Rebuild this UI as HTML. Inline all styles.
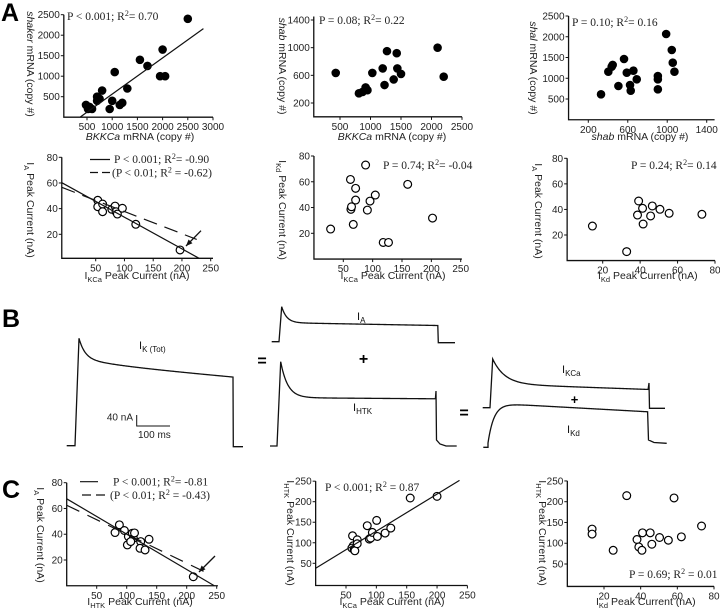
<!DOCTYPE html>
<html><head><meta charset="utf-8"><style>
html,body{margin:0;padding:0;background:#fff;}
svg{display:block;}
.tk{font-family:"Liberation Sans",sans-serif;font-size:10px;fill:#222;}
.tt{font-family:"Liberation Sans",sans-serif;font-size:10.5px;fill:#222;}
.st{font-family:"Liberation Serif",serif;font-size:11.5px;fill:#222;}
.lt{font-family:"Liberation Sans",sans-serif;font-size:25px;font-weight:bold;fill:#000;}
.tr{font-family:"Liberation Sans",sans-serif;font-size:11px;fill:#111;}
</style></head><body>
<svg id="fig" width="720" height="611" viewBox="0 0 720 611" xmlns="http://www.w3.org/2000/svg">
<text class="lt" x="1" y="21">A</text>
<text class="lt" x="2" y="327">B</text>
<text class="lt" x="2" y="498">C</text>

<!-- axis titles -->
<text class="tt" transform="translate(27,64) rotate(90)" text-anchor="middle"><tspan font-style="italic">shaker</tspan> mRNA (copy #)</text>
<text class="tt" x="140" y="140" text-anchor="middle"><tspan font-style="italic">BKKCa</tspan> mRNA (copy #)</text>
<text class="tt" transform="translate(279,66) rotate(90)" text-anchor="middle"><tspan font-style="italic">shab</tspan> mRNA (copy #)</text>
<text class="tt" x="392" y="140" text-anchor="middle"><tspan font-style="italic">BKKCa</tspan> mRNA (copy #)</text>
<text class="tt" transform="translate(530,68) rotate(90)" text-anchor="middle"><tspan font-style="italic">shal</tspan> mRNA (copy #)</text>
<text class="tt" x="640" y="140" text-anchor="middle"><tspan font-style="italic">shab</tspan> mRNA (copy #)</text>

<text class="tt" transform="translate(27,210) rotate(90)" text-anchor="middle">I<tspan dy="3" font-size="7.5">A</tspan><tspan dy="-3">  Peak Current (nA)</tspan></text>
<text class="tt" x="137" y="279" text-anchor="middle">I<tspan dy="3" font-size="7.5">KCa</tspan><tspan dy="-3"> Peak Current (nA)</tspan></text>
<text class="tt" transform="translate(279,210) rotate(90)" text-anchor="middle">I<tspan dy="3" font-size="7.5">Kd</tspan><tspan dy="-3"> Peak Current (nA)</tspan></text>
<text class="tt" x="393" y="279" text-anchor="middle">I<tspan dy="3" font-size="7.5">KCa</tspan><tspan dy="-3"> Peak Current (nA)</tspan></text>
<text class="tt" transform="translate(535,211) rotate(90)" text-anchor="middle">I<tspan dy="3" font-size="7.5">A</tspan><tspan dy="-3">  Peak Current (nA)</tspan></text>
<text class="tt" x="598" y="279">I<tspan dy="3" font-size="7.5">Kd</tspan><tspan dy="-3">   Peak Current (nA)</tspan></text>

<text class="tt" transform="translate(37,535) rotate(90)" text-anchor="middle">I<tspan dy="3" font-size="7.5">A</tspan><tspan dy="-3">  Peak Current (nA)</tspan></text>
<text class="tt" x="140" y="605" text-anchor="middle">I<tspan dy="3" font-size="7.5">HTK</tspan><tspan dy="-3"> Peak Current (nA)</tspan></text>
<text class="tt" transform="translate(287,533) rotate(90)" text-anchor="middle">I<tspan dy="3" font-size="7.5">HTK</tspan><tspan dy="-3"> Peak Current (nA)</tspan></text>
<text class="tt" x="392" y="605" text-anchor="middle">I<tspan dy="3" font-size="7.5">KCa</tspan><tspan dy="-3"> Peak Current (nA)</tspan></text>
<text class="tt" transform="translate(539,533) rotate(90)" text-anchor="middle">I<tspan dy="3" font-size="7.5">HTK</tspan><tspan dy="-3"> Peak Current (nA)</tspan></text>
<text class="tt" x="596" y="605">I<tspan dy="3" font-size="7.5">Kd</tspan><tspan dy="-3">   Peak Current (nA)</tspan></text>

<!-- stats -->
<text class="st" x="67" y="20">P &lt; 0.001; R<tspan dy="-4" font-size="8">2</tspan><tspan dy="4">= 0.70</tspan></text>
<text class="st" x="319" y="24">P = 0.08; R<tspan dy="-4" font-size="8">2</tspan><tspan dy="4">= 0.22</tspan></text>
<text class="st" x="572" y="26">P = 0.10; R<tspan dy="-4" font-size="8">2</tspan><tspan dy="4">= 0.16</tspan></text>
<text class="st" x="114" y="163">P &lt; 0.001; R<tspan dy="-4" font-size="8">2</tspan><tspan dy="4">= -0.90</tspan></text>
<text class="st" x="112" y="176.5">(P &lt; 0.01; R<tspan dy="-4" font-size="8">2</tspan><tspan dy="4"> = -0.62)</tspan></text>
<line x1="90" y1="159.5" x2="110" y2="159.5" stroke="#111" stroke-width="1.2"/>
<line x1="90" y1="172.5" x2="110" y2="172.5" stroke="#111" stroke-width="1.2" stroke-dasharray="8,4"/>
<text class="st" x="383" y="169">P = 0.74; R<tspan dy="-4" font-size="8">2</tspan><tspan dy="4">= -0.04</tspan></text>
<text class="st" x="631" y="169">P = 0.24; R<tspan dy="-4" font-size="8">2</tspan><tspan dy="4">= 0.14</tspan></text>
<text class="st" x="113" y="485.5">P &lt; 0.001; R<tspan dy="-4" font-size="8">2</tspan><tspan dy="4">= -0.81</tspan></text>
<text class="st" x="110" y="499">(P &lt; 0.01; R<tspan dy="-4" font-size="8">2</tspan><tspan dy="4"> = -0.43)</tspan></text>
<line x1="80" y1="481.7" x2="98" y2="481.7" stroke="#111" stroke-width="1.2"/>
<line x1="82" y1="495" x2="107" y2="495" stroke="#111" stroke-width="1.2" stroke-dasharray="9,5"/>
<text class="st" x="325" y="491">P &lt; 0.001; R<tspan dy="-4" font-size="8">2</tspan><tspan dy="4"> = 0.87</tspan></text>
<text class="st" x="629" y="578">P = 0.69; R<tspan dy="-4" font-size="8">2</tspan><tspan dy="4"> = 0.01</tspan></text>

<!-- panel B labels -->
<text class="tr" x="139" y="349">I<tspan dy="3" font-size="8">K (Tot)</tspan></text>
<text class="tr" x="357" y="320">I<tspan dy="3" font-size="8">A</tspan></text>
<text class="tr" x="353" y="411">I<tspan dy="3" font-size="8">HTK</tspan></text>
<text class="tr" x="562" y="373">I<tspan dy="3" font-size="8">KCa</tspan></text>
<text class="tr" x="567" y="433">I<tspan dy="3" font-size="8">Kd</tspan></text>
<text x="262" y="366" font-family="Liberation Sans,sans-serif" font-size="16" font-weight="bold" text-anchor="middle">=</text>
<text x="363.5" y="364" font-family="Liberation Sans,sans-serif" font-size="16" font-weight="bold" text-anchor="middle">+</text>
<text x="464" y="418" font-family="Liberation Sans,sans-serif" font-size="16" font-weight="bold" text-anchor="middle">=</text>
<text x="574.5" y="404" font-family="Liberation Sans,sans-serif" font-size="13" font-weight="bold" text-anchor="middle">+</text>
<path d="M136.7 415 V426 H170" fill="none" stroke="#111" stroke-width="1"/>
<text class="tk" x="133" y="420.5" text-anchor="end" font-size="9">40 nA</text>
<text class="tk" x="138" y="438" font-size="9">100 ms</text>
<g id="traces"></g>
<g id="plots"></g>
</svg>
<script>
// ---- data ----
const a1X=[2500,2000,1950,2050,1700,1550,1050,1300,1000,1200,1150,950,800,700,700,750,480,520,600,550];
const a1Y=[2400,1650,1000,1000,1250,1400,1100,700,400,350,300,200,650,500,400,450,300,200,200,250];
const a1LineX=[360,2810];const a1LineY=[0,2160];
const a2X=[430,810,920,950,1030,1200,1270,1230,1430,1380,1440,1500,2100,2200,870];
const a2Y=[635,340,425,385,635,700,950,460,920,540,700,620,1000,580,360];
const a3X=[329,403,437,447,562,505,590,657,691,623,630,905,905,905,989,1046,1056,1073];
const a3Y=[613,1158,1279,1320,1464,813,1134,1183,975,837,701,1054,975,734,2066,1681,1375,1158];
const a4X=[53.6,53.6,62,62,78,83.7,85.4,87.7,96.4,119.7,196.7];
const a4Y=[46.5,41.5,43.6,37.6,39.5,42,37.6,35.8,40.3,27.8,7.8];
const a4SolidX=[-9,229.8];const a4SolidY=[60.2,1.3];
const a4DashX=[-9,225.7];const a4DashY=[56.6,16];
const a5X=[28.4,63,64,62.2,71,71,67,88,95.5,91,104.5,118,127,159.7,202];
const a5Y=[23.3,38.6,40.6,61.8,54.9,45.8,26.9,73,45,38,49.7,12.9,12.9,58,31.8];
const a6X=[14.5,32.8,39.2,38.6,41.3,41.6,45.6,46.5,50.6,55.5,73];
const a6Y=[27,7,46.6,35.6,40.9,28.6,34.9,42.7,40.1,37,36.2];
const c1X=[87.8,80.6,96.1,102.8,101.1,109.4,111.1,106.7,123.3,122.2,130.6,137.2,113,211];
const c1Y=[47.3,41.3,42.9,38.2,31.7,40.8,36.9,34.3,34.3,29.1,27.8,36.1,41,7];
const c1SolidX=[0,246];const c1SolidY=[67.5,0];
const c1DashX=[0,238];const c1DashY=[62.5,9];
const c2X=[60.8,61.9,59.7,63.5,64.6,68.5,68.5,85,88.4,90.6,93.4,100.5,101.7,114.4,123.8,155.8,200];
const c2Y=[117,92.7,87,82.9,80.5,107.3,97.6,141.5,109,111.4,125.2,154.5,115.4,123.6,135.8,209,213];
const c2LineX=[0,237];const c2LineY=[38,252];
const c3X=[13.5,13.5,32.4,25,38,39,40.7,41,45.2,46.1,50.3,55.1,58.2,62.2,73.2];
const c3Y=[134,122,214.6,83,109,91,83,125,125,97.6,113.8,107.3,209,115.4,141.5];
const a1XTicks=[500,1000,1500,2000,2500,3000];const a1YTicks=[500,1000,1500,2000,2500];
const a2XTicks=[500,1000,1500,2000,2500];const a2YTicks=[200,600,1000,1400];
const a3XTicks=[200,600,1000,1400];const a3YTicks=[500,1000,1500,2000,2500];
const kcaTicks=[50,100,150,200,250];const pct80Ticks=[20,40,60,80];
const kdTicks=[20,40,60,80];const htkYTicks=[50,100,150,200,250];

// ---- layout ----
const NS='http://www.w3.org/2000/svg';
const plots=document.getElementById('plots');
function lin(d,p){return v=>p[0]+(v-d[0])*(p[1]-p[0])/(d[1]-d[0]);}
function axes(name,c,xt,yt){
  const g=document.createElementNS(NS,'g');
  
  
  plots.appendChild(g);
  const L=c.fx(c.xmin),R=c.fx(c.xmax),B=c.fy(c.ymin),T=c.fy(c.ymax);
  const p=document.createElementNS(NS,'path');
  p.setAttribute('d','M'+L+' '+T+' V'+B+' H'+R);
  p.setAttribute('fill','none');p.setAttribute('stroke','#111');p.setAttribute('stroke-width','1.3');
  
  
  g.appendChild(p);
  xt.forEach(v=>{const x=c.fx(v);
    const t=document.createElementNS(NS,'line');
    t.setAttribute('x1',x);t.setAttribute('x2',x);t.setAttribute('y1',B);t.setAttribute('y2',B+3);t.setAttribute('stroke','#111');
    
    
    g.appendChild(t);
    const s=document.createElementNS(NS,'text');
    s.setAttribute('x',x);s.setAttribute('y',B+13);s.setAttribute('text-anchor','middle');s.setAttribute('class','tk');s.textContent=v;
    
    
    g.appendChild(s);});
  yt.forEach(v=>{const y=c.fy(v);
    const t=document.createElementNS(NS,'line');
    t.setAttribute('x1',L-3);t.setAttribute('x2',L);t.setAttribute('y1',y);t.setAttribute('y2',y);t.setAttribute('stroke','#111');
    
    
    g.appendChild(t);
    const s=document.createElementNS(NS,'text');
    s.setAttribute('x',L-4);s.setAttribute('y',y+3.5);s.setAttribute('text-anchor','end');s.setAttribute('class','tk');s.textContent=v;
    
    
    g.appendChild(s);});
}
function pts(name,c,xs,ys,filled){
  xs.forEach((v,i)=>{const e=document.createElementNS(NS,'circle');
    e.setAttribute('cx',c.fx(v));e.setAttribute('cy',c.fy(ys[i]));e.setAttribute('r',filled?3.7:3.9);
    e.setAttribute('fill',filled?'#000':'#fff');e.setAttribute('stroke','#000');e.setAttribute('stroke-width','1.2');
    
    
    plots.appendChild(e);});
}
function fit(name,c,xs,ys,dash){
  const l=document.createElementNS(NS,'line');
  l.setAttribute('x1',c.fx(xs[0]));l.setAttribute('y1',c.fy(ys[0]));l.setAttribute('x2',c.fx(xs[1]));l.setAttribute('y2',c.fy(ys[1]));
  l.setAttribute('stroke','#111');l.setAttribute('stroke-width','1.2');
  if(dash)l.setAttribute('stroke-dasharray',dash);
  
  
  plots.appendChild(l);
}
function cfg(xd,xp,yd,yp,xmin,xmax,ymin,ymax){return {fx:lin(xd,xp),fy:lin(yd,yp),xmin,xmax,ymin,ymax};}
const A1=cfg([500,3000],[87,213],[500,2500],[96.7,14.7],40,3000,0,2500);
const A2=cfg([500,2500],[340,462],[200,1400],[103,20],70,2500,0,1450);
const A3=cfg([200,1400],[588.3,706.7],[500,2500],[99,16],0,1480,0,2500);
const A4=cfg([50,250],[95.7,210.7],[20,80],[234.3,157.3],-9,254,1.3,80);
const A5=cfg([50,250],[343.3,460.7],[20,80],[233.3,156],0,252,0,80);
const A6=cfg([20,80],[602.7,715],[20,80],[235,158.3],1,80,0,80);
const C1=cfg([50,150],[96.7,156.7],[20,80],[560,482.7],0,252,0,80);
const C2=cfg([50,150],[346,406.7],[50,200],[563.3,501.7],0,250,-4,250);
const C3=cfg([20,80],[604,714],[50,200],[564,501.7],0,80,-4,250);

axes('a1-axes',A1,a1XTicks,a1YTicks);pts('a1',A1,a1X,a1Y,true);fit('a1-fit-line',A1,a1LineX,a1LineY);
axes('a2-axes',A2,a2XTicks,a2YTicks);pts('a2',A2,a2X,a2Y,true);
axes('a3-axes',A3,a3XTicks,a3YTicks);pts('a3',A3,a3X,a3Y,true);
axes('a4-axes',A4,kcaTicks,pct80Ticks);pts('a4',A4,a4X,a4Y,false);
fit('a4-fit-solid',A4,a4SolidX,a4SolidY);fit('a4-fit-dashed',A4,a4DashX,a4DashY,'14,8');
axes('a5-axes',A5,kcaTicks,pct80Ticks);pts('a5',A5,a5X,a5Y,false);
axes('a6-axes',A6,kdTicks,pct80Ticks);pts('a6',A6,a6X,a6Y,false);
axes('c1-axes',C1,kcaTicks,pct80Ticks);pts('c1',C1,c1X,c1Y,false);
fit('c1-fit-solid',C1,c1SolidX,c1SolidY);fit('c1-fit-dashed',C1,c1DashX,c1DashY,'14,9');
axes('c2-axes',C2,kcaTicks,htkYTicks);pts('c2',C2,c2X,c2Y,false);fit('c2-fit-line',C2,c2LineX,c2LineY);
axes('c3-axes',C3,kdTicks,htkYTicks);pts('c3',C3,c3X,c3Y,false);

function arrow(name,x1,y1,x2,y2){
  const g=document.createElementNS(NS,'g');
  
  
  const l=document.createElementNS(NS,'line');
  l.setAttribute('x1',x1);l.setAttribute('y1',y1);l.setAttribute('x2',x2);l.setAttribute('y2',y2);l.setAttribute('stroke','#111');l.setAttribute('stroke-width','1.3');
  g.appendChild(l);
  const a=Math.atan2(y2-y1,x2-x1),h=7;
  const p=document.createElementNS(NS,'path');
  p.setAttribute('d','M'+x2+' '+y2+' L'+(x2-h*Math.cos(a-0.4))+' '+(y2-h*Math.sin(a-0.4))+' L'+(x2-h*Math.cos(a+0.4))+' '+(y2-h*Math.sin(a+0.4))+'Z');
  p.setAttribute('fill','#111');g.appendChild(p);plots.appendChild(g);
}
arrow('a4-arrow',201,230.7,186,246);
arrow('c1-arrow',215,556,199,572);

// ---- traces (panel B) ----
const tg=document.getElementById('traces');
function trace(name,pre,f,x0,x1,post){
  let d=pre;
  for(let x=x0;x<=x1;x+=0.7){d+=' L'+x.toFixed(1)+' '+f(x).toFixed(2);}
  d+=post;
  const p=document.createElementNS(NS,'path');
  p.setAttribute('d',d);p.setAttribute('fill','none');p.setAttribute('stroke','#111');p.setAttribute('stroke-width','1.3');
  
  
  tg.appendChild(p);
}
trace('ik-tot-trace','M66.7 445.7 L75 445.7 L79 338.3',x=>338.3+20*(1-Math.exp(-(x-79)/6))+5*(1-Math.exp(-(x-79)/40))+0.09*(x-79),79,233.3,' L233.3 446.7 L243 446.7');
trace('ia-trace','M271.7 341.7 L279 341.7 L281.7 306.7',x=>306.7+16*(1-Math.exp(-(x-281.7)/5))+0.018*(x-281.7),281.7,438.3,' L438.3 342.7 L455 342.7');
trace('ihtk-trace','M270 446 L277 446 L280.7 361.7',x=>361.7+36*(1-Math.exp(-(x-280.7)/7))+0.007*(x-280.7),280.7,436,' L436 391 L436.5 440 L440 444 L446 446 L456.7 446');
trace('ikca-trace','M482.7 407.7 L490 407.7 L492.7 359',x=>359+25*(1-Math.exp(-(x-492.7)/12))+0.035*(x-492.7),492.7,648.3,' L649 383 L649.5 408.3 L665 408.3');
trace('ikd-trace','M483.3 447.3 L488 447.3',x=>403+40*Math.exp(-(x-488)/6)+0.055*(x-488),488,648.3,' L648.5 440 L654 442.5 L666.7 443.3');
</script>
</body></html>
